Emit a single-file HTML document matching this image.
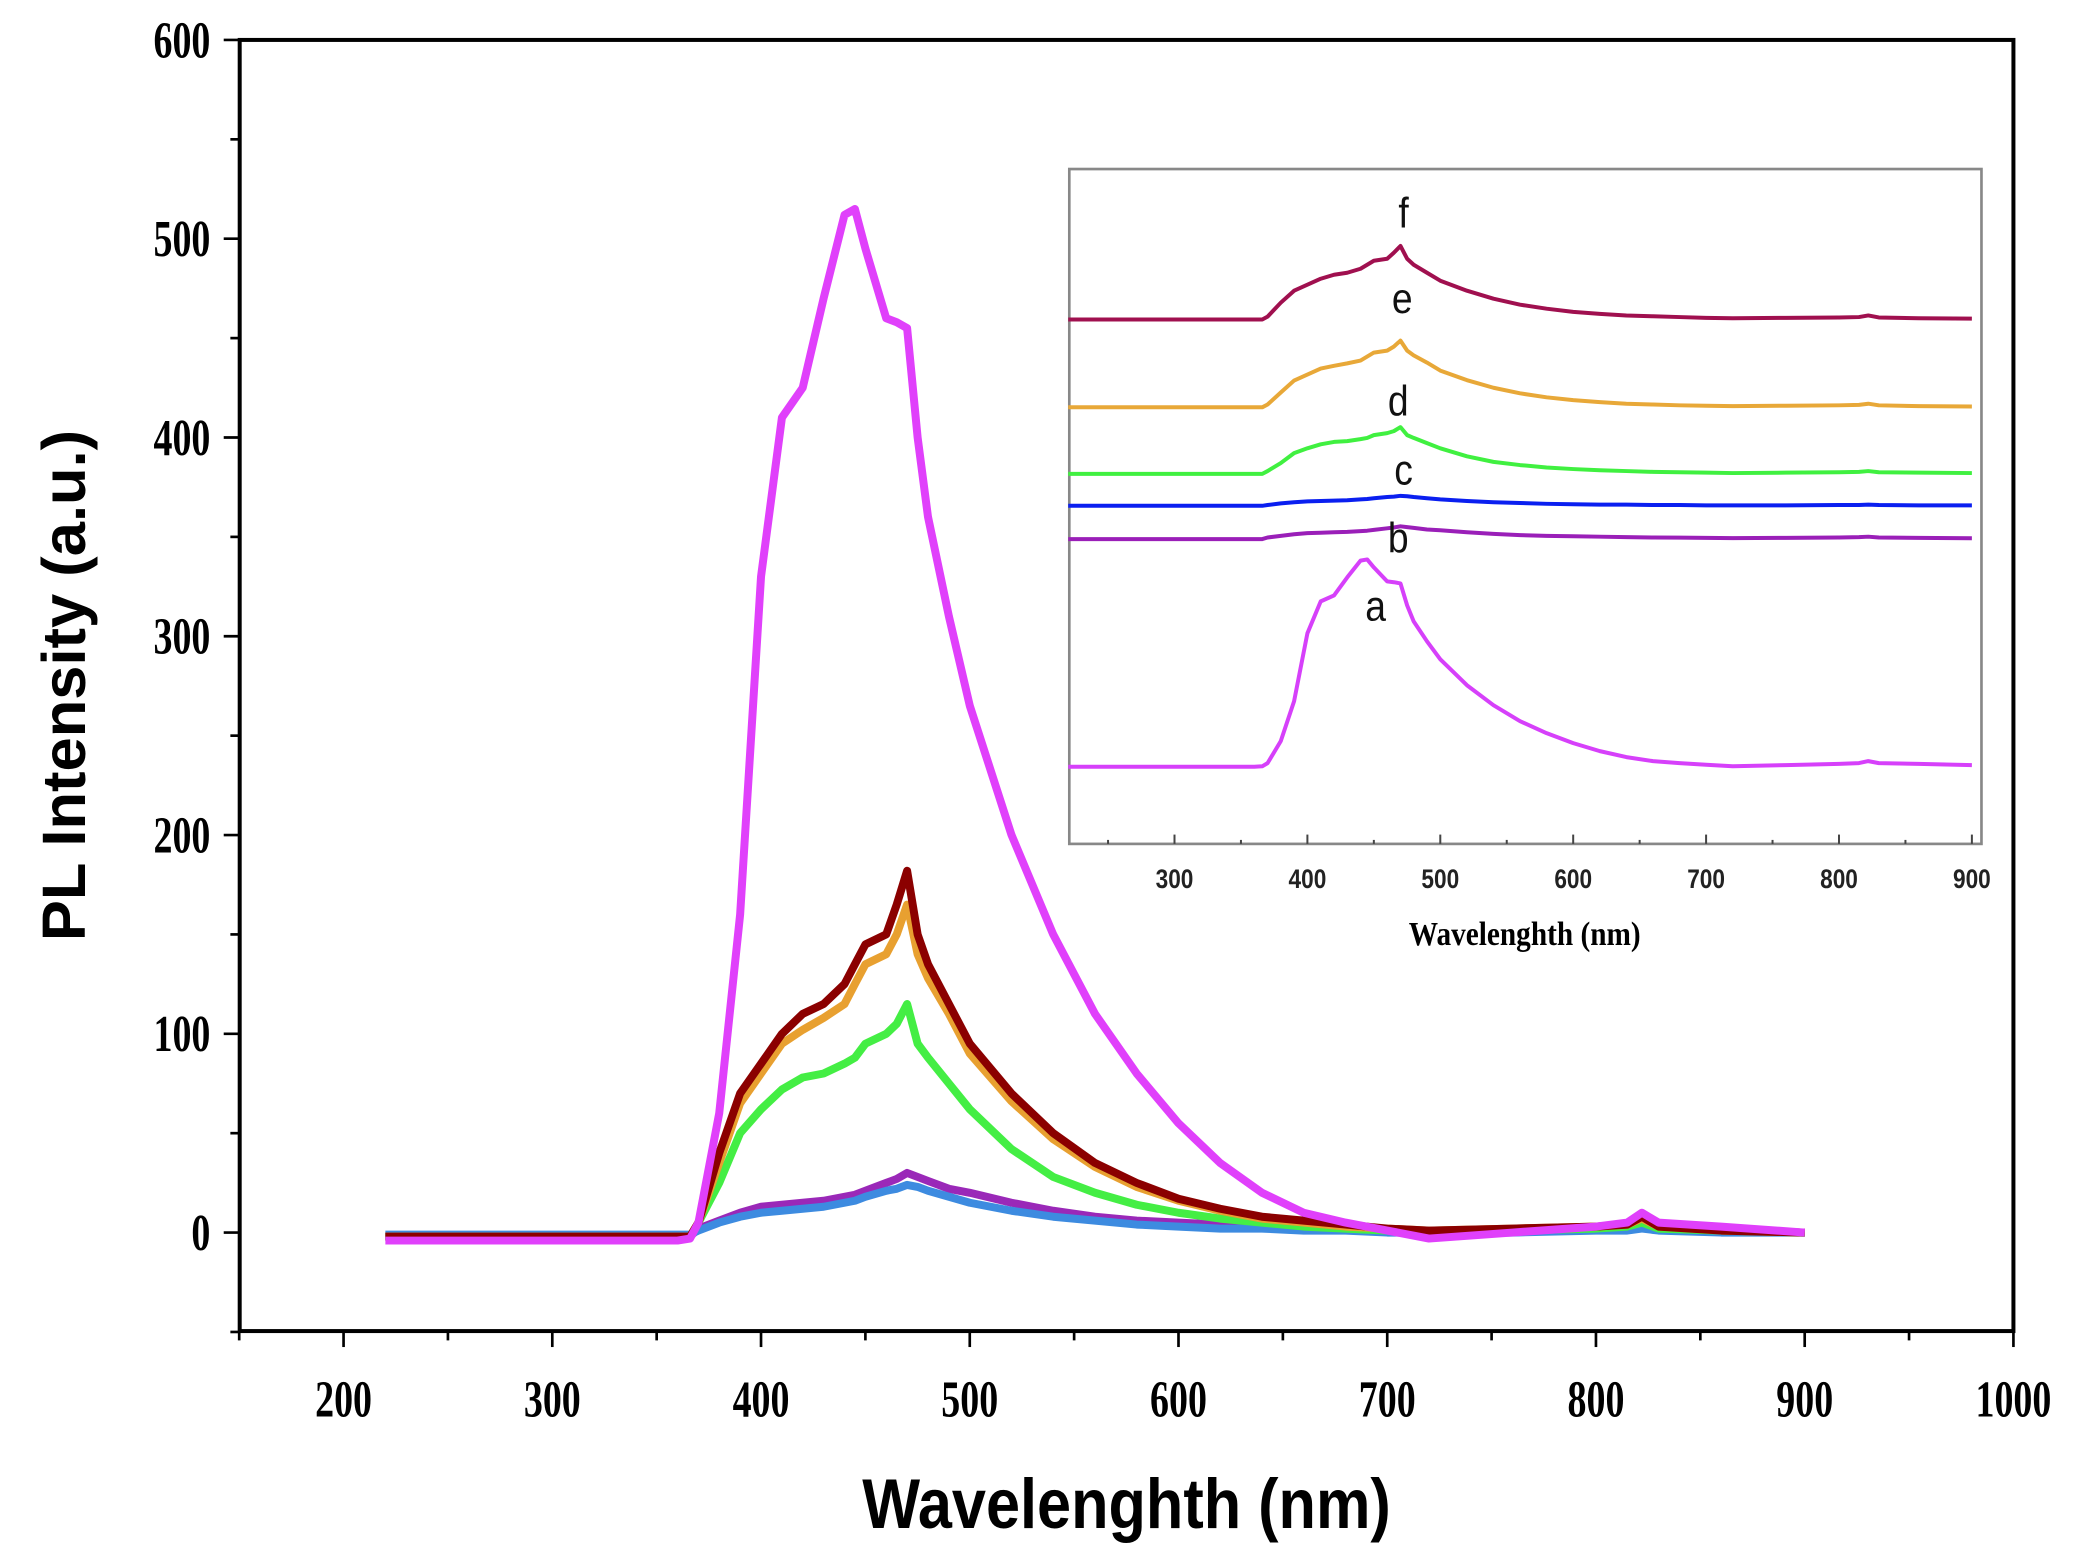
<!DOCTYPE html>
<html><head><meta charset="utf-8"><style>
html,body{margin:0;padding:0;background:#fff}
svg{display:block}
.tk{font-family:"Liberation Serif",serif;font-weight:bold;font-size:30px;fill:#000}
.itk{font-family:"Liberation Sans",sans-serif;font-weight:bold;font-size:17px;fill:#222}
</style></head><body>
<svg id="chart" width="2088" height="1568" viewBox="0 0 1568 1178" preserveAspectRatio="none" xmlns="http://www.w3.org/2000/svg">
<g id="main"></g>
<g id="inset"></g>
<text x="0" y="0" transform="translate(64,515) rotate(-90) scale(1.05,1.05)" text-anchor="middle" style="font-family:'Liberation Sans',sans-serif;font-weight:bold;font-size:44px">PL Intensity (a.u.)</text>
<text x="0" y="0" transform="translate(846,1148) scale(1,1.15)" text-anchor="middle" style="font-family:'Liberation Sans',sans-serif;font-weight:bold;font-size:46px">Wavelenghth (nm)</text>
<text x="0" y="0" transform="translate(1145,710) scale(1,1.15)" text-anchor="middle" style="font-family:'Liberation Serif',serif;font-weight:bold;font-size:22px">Wavelenghth (nm)</text>
</svg>
<script>
const wl=[220,360,366,370,380,390,400,410,420,430,440,445,450,460,465,470,475,480,490,500,520,540,560,580,600,620,640,660,680,700,720,760,800,815,822,830,860,900];
const sA=[-4,-4,-3,5,60,160,330,410,425,470,512,515,495,460,458,455,400,360,310,265,200,150,110,80,55,35,20,10,5,1,-3,0,3,5,10,5,3,0];
const sB=[-2,-2,-2,2,6,10,13,14,15,16,18,19,21,25,27,30,28,26,22,20,15,11,8,6,5,4,3,2,1.5,1,0.5,1,2,3,4,2,1,0];
const sC=[-1,-1,-1,1,5,8,10,11,12,13,15,16,18,21,22,24,23,21,18,15,11,8,6,4,3,2,2,1,1,0,0,0,1,1,2,1,0,0];
const sD=[-2,-2,-2,5,25,50,62,72,78,80,85,88,95,100,105,115,95,88,75,62,42,28,20,14,10,7,5,3,2,1,0,1,2,3,5,2,1,0];
const sE=[-2,-2,-2,5,35,65,80,95,102,108,115,125,135,140,150,165,140,128,110,90,66,47,33,23,16,11,7,5,3,2,1,2,3,4,7,3,1,0];
const sF=[-2,-2,-2,5,40,70,85,100,110,115,125,135,145,150,165,182,150,135,115,95,70,50,35,25,17,12,8,6,4,2,1,2,3,4,8,3,1,0];
const seriesNames=['a','b','c','d','e','f'];
const mainColors=['#e040fb','#9a28b8','#3d8be0','#44ee44','#e8a030','#8b0000'];
const insetColors=['#d640fa','#9a1fb8','#0a1ff0','#40f040','#e8a838','#a0104f'];
const insetOffsets=[576,405,380,356,306,240];
const xTicks=[200,300,400,500,600,700,800,900,1000];
const yTicks=[0,100,200,300,400,500,600];
const insetTicks=[300,400,500,600,700,800,900];
const allSeries=[sA,sB,sC,sD,sE,sF];
const NS='http://www.w3.org/2000/svg';
function mk(tag,attrs,parent){const e=document.createElementNS(NS,tag);for(const k in attrs)e.setAttribute(k,attrs[k]);parent.appendChild(e);return e;}
const X=w=>258+(w-200)*1.5675, Y=v=>926-v*1.4933;
const main=document.getElementById('main');
let fr=mk('rect',{x:180,y:30,width:1332,height:970,fill:'none',stroke:'#000','stroke-width':3},main);


for(let w=150;w<=1000;w+=50){const maj=w%100===0;
 let t=mk('line',{x1:X(w),x2:X(w),y1:1000,y2:maj?1012:1007,stroke:'#000','stroke-width':2},main);
 
 }
xTicks.forEach(w=>{let t=mk('text',{x:0,y:0,transform:`translate(${X(w)},1064) scale(0.95,1.3)`,'text-anchor':'middle',class:'tk'},main);t.textContent=w;
 
 });
for(let v=-50;v<=600;v+=50){const maj=v%100===0;
 let t=mk('line',{x1:180,x2:maj?168:173,y1:Y(v),y2:Y(v),stroke:'#000','stroke-width':2},main);
 
 }
yTicks.forEach(v=>{let t=mk('text',{x:0,y:0,transform:`translate(158,${Y(v)+13}) scale(0.95,1.3)`,'text-anchor':'end',class:'tk'},main);t.textContent=v;
 
 });
[1,2,3,4,5,0].forEach(i=>{const s=allSeries[i];
 const d=wl.map((w,j)=>(j?'L':'M')+X(w).toFixed(1)+','+Y(s[j]).toFixed(1)).join(' ');
 let p=mk('path',{d:d,fill:'none',stroke:mainColors[i],'stroke-width':6,'stroke-linejoin':'round'},main);
 
 });
const inset=document.getElementById('inset');
const IX=w=>882+(w-300)*0.998;
let ib=mk('rect',{x:803,y:127,width:685,height:507,fill:'#fff',stroke:'#888','stroke-width':2},inset);


for(let w=250;w<=900;w+=50){const maj=w%100===0;
 let t=mk('line',{x1:IX(w),x2:IX(w),y1:634,y2:maj?627:631,stroke:'#444','stroke-width':1.5},inset);
 
 }
insetTicks.forEach(w=>{let t=mk('text',{x:0,y:0,transform:`translate(${IX(w)},667) scale(1,1.2)`,'text-anchor':'middle',class:'itk'},inset);t.textContent=w;
 
 });
allSeries.forEach((s,i)=>{const d=wl.map((w,j)=>(j?'L':'M')+IX(w).toFixed(1)+','+(insetOffsets[i]-(s[j]-s[0])*0.3).toFixed(1)).join(' ');
 let p=mk('path',{d:d,fill:'none',stroke:insetColors[i],'stroke-width':3,'stroke-linejoin':'round'},inset);
 
 });
const labelPos=[[1033,466],[1050,415],[1054,364],[1050,312],[1053,235],[1054,171]];
seriesNames.forEach((n,i)=>{let t=mk('text',{x:0,y:0,transform:`translate(${labelPos[i][0]},${labelPos[i][1]}) scale(1,1.15)`,'text-anchor':'middle',style:"font-family:'Liberation Sans',sans-serif;font-size:28px;fill:#111"},inset);t.textContent=n;
 
 });
</script>
</body></html>
